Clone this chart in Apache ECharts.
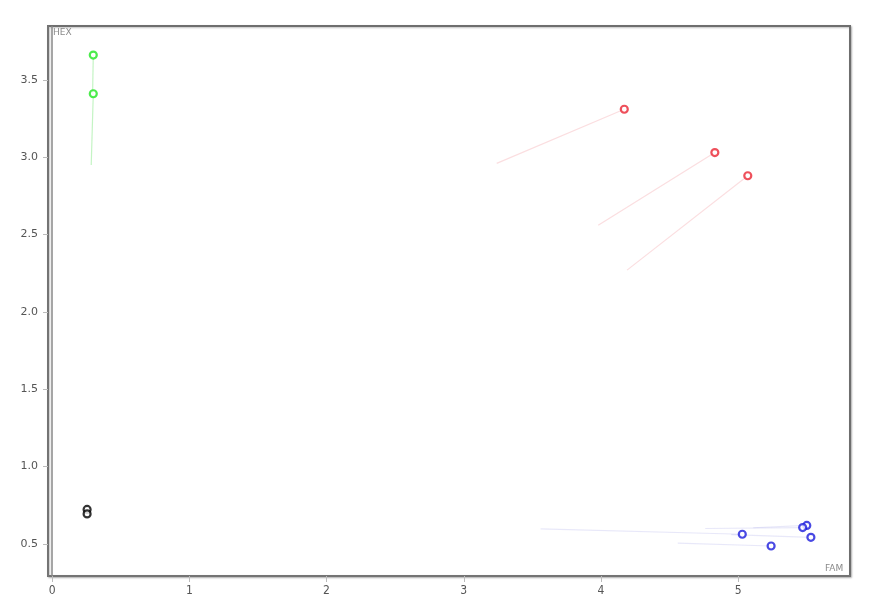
<!DOCTYPE html>
<html>
<head>
<meta charset="utf-8">
<script src="https://cdn.jsdelivr.net/npm/echarts@6/dist/echarts.min.js"></script>
<style>html,body{margin:0;padding:0;background:#fff}#c{width:880px;height:612px}</style>
</head>
<body>
<div id="c"></div>
<script>
// Current positions
const groupNames = ['green', 'green', 'red', 'red', 'red', 'blue', 'blue', 'blue', 'blue', 'blue', 'black', 'black'];
const curX = [0.30, 0.30, 4.17, 4.83, 5.07, 5.50, 5.47, 5.03, 5.53, 5.24, 0.255, 0.255];
const curY = [3.66, 3.41, 3.31, 3.03, 2.88, 0.620, 0.606, 0.563, 0.543, 0.487, 0.723, 0.694];
// Previous positions (tail start), null = no tail
const prevX = [0.295, 0.285, 3.24, 3.98, 4.19, 5.11, 4.76, 3.56, 4.95, 4.56, null, null];
const prevY = [3.41, 2.95, 2.96, 2.56, 2.27, 0.605, 0.600, 0.597, 0.560, 0.505, null, null];
const xTicks = [0, 1, 2, 3, 4, 5];
const yTicks = [0.5, 1.0, 1.5, 2.0, 2.5, 3.0, 3.5];

const pointColor = { green: '#1fe61f', red: '#ea2432', blue: '#1c1cdc', black: '#000000' };
const tailColor = { green: 'rgba(60,220,60,0.3)', red: 'rgba(235,90,100,0.2)', blue: 'rgba(110,110,220,0.16)', black: 'rgba(0,0,0,0.2)' };

const series = [];
// tails
curX.forEach((x, i) => {
  if (prevX[i] === null) return;
  series.push({
    type: 'line',
    data: [[prevX[i], prevY[i]], [x, curY[i]]],
    symbol: 'none',
    silent: true,
    lineStyle: { color: tailColor[groupNames[i]], width: 1.2 },
    z: 1
  });
});
// points per group
['green', 'red', 'blue', 'black'].forEach(g => {
  const data = [];
  curX.forEach((x, i) => { if (groupNames[i] === g) data.push([x, curY[i]]); });
  series.push({
    type: 'scatter',
    data: data,
    symbol: 'circle',
    symbolSize: 7,
    itemStyle: { color: '#fff', borderColor: pointColor[g], borderWidth: 2.2 },
    z: 5
  });
});
// x = 0 reference line
series.push({
  type: 'line', data: [], silent: true,
  markLine: {
    symbol: 'none', silent: true, label: { show: false },
    lineStyle: { color: '#888', width: 1.5, type: 'solid' },
    data: [{ xAxis: 0 }]
  }
});

const chart = echarts.init(document.getElementById('c'), null, { renderer: 'canvas' });
chart.setOption({
  animation: false,
  backgroundColor: '#fff',
  grid: {
    left: 48, right: 30, top: 26, bottom: 36,
    show: true, backgroundColor: '#fff',
    borderColor: '#6e6e6e', borderWidth: 2,
    shadowColor: 'rgba(0,0,0,0.25)', shadowBlur: 2, shadowOffsetX: 1, shadowOffsetY: 1
  },
  xAxis: {
    type: 'value', min: -0.03, max: 5.815,
    axisLine: { show: true, onZero: false, lineStyle: { color: '#777', width: 1.5 } },
    axisTick: { show: true, length: 6, lineStyle: { color: '#bbb' }, customValues: xTicks },
    axisLabel: { customValues: xTicks, color: '#555', fontSize: 12, margin: 9,
      fontFamily: '"Liberation Sans Narrow", "DejaVu Sans Condensed", sans-serif' },
    splitLine: { show: false }
  },
  yAxis: {
    type: 'value', min: 0.293, max: 3.848,
    axisLine: { show: true, onZero: false, lineStyle: { color: '#777', width: 1.5 } },
    axisTick: { show: true, length: 5, lineStyle: { color: '#bbb' }, customValues: yTicks },
    axisLabel: { customValues: yTicks, color: '#555', fontSize: 11, margin: 10,
      fontFamily: '"DejaVu Sans", sans-serif', formatter: v => v.toFixed(1) },
    splitLine: { show: false }
  },
  graphic: [
    { type: 'text', left: 53, top: 28, z: 10, style: { text: 'HEX', fill: '#8a8a8a', fontSize: 9, fontFamily: '"DejaVu Sans", sans-serif' } },
    { type: 'text', left: 825, top: 564, z: 10, style: { text: 'FAM', fill: '#8a8a8a', fontSize: 9, fontFamily: '"DejaVu Sans", sans-serif' } }
  ],
  series: series
});
</script>
</body>
</html>
